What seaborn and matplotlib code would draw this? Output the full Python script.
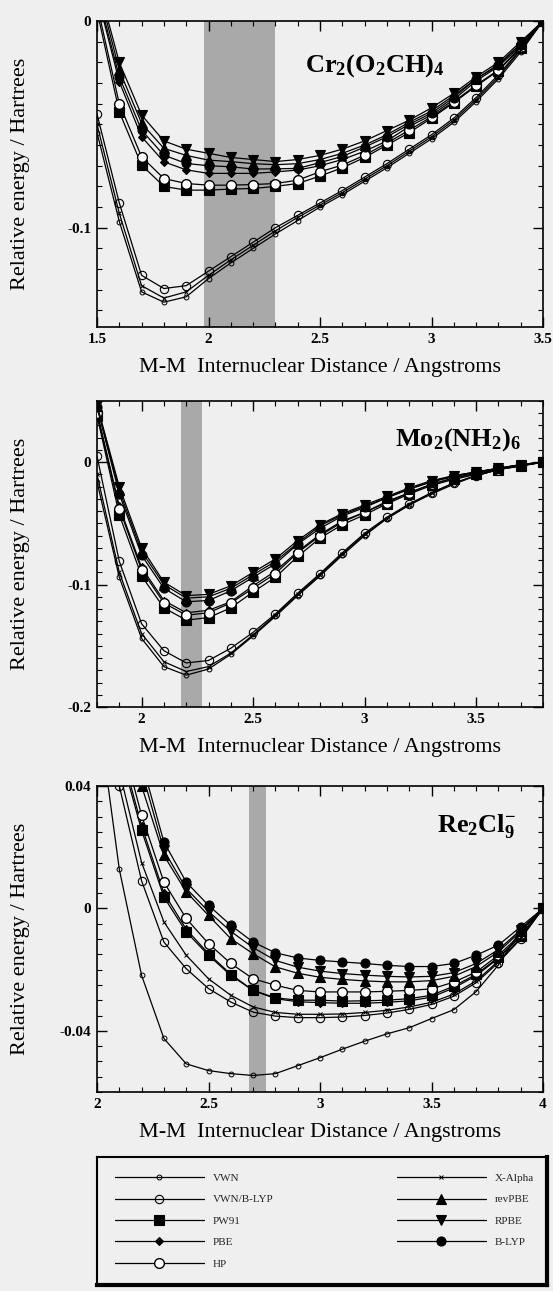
import matplotlib
matplotlib.use("Agg")
import numpy as np
import pandas as pd
import matplotlib.pyplot as plt
import seaborn as sns
from matplotlib.ticker import MultipleLocator, FormatStrFormatter
from matplotlib.lines import Line2D

# ---------------- data ----------------
METHODS = ["VWN", "VWN/B-LYP", "PW91", "PBE", "HP", "X-Alpha", "revPBE", "RPBE", "B-LYP"]

# Cr2(O2CH)4
CR_TITLE = r"$\mathbf{Cr_2(O_2CH)_4}$"
CR_X = [1.5, 1.6, 1.7, 1.8, 1.9, 2.0, 2.1, 2.2, 2.3, 2.4, 2.5, 2.6, 2.7, 2.8, 2.9, 3.0, 3.1, 3.2, 3.3, 3.4, 3.5]
CR_VWN = [-0.054, -0.097, -0.131, -0.136, -0.1334, -0.1246, -0.117, -0.110, -0.103, -0.0965, -0.090, -0.084, -0.0775, -0.071, -0.064, -0.057, -0.049, -0.039, -0.028, -0.015, 0.0]
CR_VWNBLYP = [-0.045, -0.088, -0.123, -0.1294, -0.128, -0.121, -0.114, -0.107, -0.100, -0.094, -0.088, -0.082, -0.0755, -0.069, -0.062, -0.055, -0.047, -0.037, -0.026, -0.0135, 0.0]
CR_XALPHA = [-0.050, -0.093, -0.128, -0.134, -0.131, -0.123, -0.1155, -0.1085, -0.1015, -0.095, -0.089, -0.083, -0.0765, -0.070, -0.063, -0.056, -0.048, -0.038, -0.027, -0.014, 0.0]
CR_PW91 = [0.005, -0.044, -0.0697, -0.080, -0.0818, -0.0818, -0.0813, -0.081, -0.080, -0.0786, -0.075, -0.071, -0.066, -0.060, -0.054, -0.047, -0.0395, -0.0315, -0.024, -0.013, 0.0]
CR_PBE = [0.013, -0.0294, -0.056, -0.0681, -0.072, -0.0737, -0.0737, -0.0737, -0.073, -0.0721, -0.070, -0.067, -0.063, -0.058, -0.051, -0.0455, -0.038, -0.029, -0.022, -0.012, 0.0]
CR_HP = [0.008, -0.040, -0.0657, -0.0762, -0.0786, -0.0794, -0.0794, -0.0791, -0.0786, -0.077, -0.0729, -0.0697, -0.0649, -0.059, -0.0528, -0.0463, -0.039, -0.031, -0.0237, -0.0125, 0.0]
CR_REVPBE = [0.018, -0.0237, -0.0495, -0.0616, -0.065, -0.0673, -0.068, -0.069, -0.0695, -0.069, -0.067, -0.064, -0.060, -0.055, -0.049, -0.0435, -0.036, -0.028, -0.021, -0.011, 0.0]
CR_RPBE = [0.020, -0.020, -0.0455, -0.058, -0.062, -0.064, -0.066, -0.067, -0.068, -0.067, -0.065, -0.062, -0.058, -0.053, -0.048, -0.042, -0.035, -0.027, -0.020, -0.010, 0.0]
CR_BLYP = [0.015, -0.027, -0.0528, -0.0649, -0.0689, -0.070, -0.0705, -0.0716, -0.0715, -0.0713, -0.0685, -0.0655, -0.061, -0.056, -0.050, -0.0445, -0.037, -0.028, -0.0215, -0.011, 0.0]
CR_BAND = [1.98, 2.30]
CR_XLIM = [1.5, 3.5]
CR_YLIM = [-0.148, 0.0]
CR_YTICK = 0.1

# Mo2(NH2)6
MO_TITLE = r"$\mathbf{Mo_2(NH_2)_6}$"
MO_X = [1.8, 1.9, 2.0, 2.1, 2.2, 2.3, 2.4, 2.5, 2.6, 2.7, 2.8, 2.9, 3.0, 3.1, 3.2, 3.3, 3.4, 3.5, 3.6, 3.7, 3.8]
MO_VWN = [-0.016, -0.094, -0.144, -0.167, -0.174, -0.169, -0.157, -0.142, -0.126, -0.109, -0.093, -0.076, -0.060, -0.046, -0.035, -0.026, -0.018, -0.011, -0.006, -0.002, 0.0]
MO_VWNBLYP = [0.005, -0.081, -0.132, -0.154, -0.164, -0.162, -0.152, -0.139, -0.124, -0.107, -0.091, -0.074, -0.058, -0.045, -0.034, -0.025, -0.017, -0.011, -0.006, -0.002, 0.0]
MO_XALPHA = [-0.010, -0.090, -0.140, -0.163, -0.171, -0.167, -0.156, -0.141, -0.125, -0.108, -0.092, -0.075, -0.059, -0.046, -0.035, -0.025, -0.017, -0.011, -0.006, -0.002, 0.0]
MO_PW91 = [0.038, -0.043, -0.093, -0.119, -0.129, -0.127, -0.119, -0.106, -0.094, -0.077, -0.062, -0.051, -0.043, -0.034, -0.026, -0.019, -0.014, -0.010, -0.006, -0.003, 0.0]
MO_PBE = [0.041, -0.036, -0.086, -0.113, -0.123, -0.121, -0.114, -0.101, -0.089, -0.073, -0.059, -0.048, -0.041, -0.032, -0.025, -0.018, -0.013, -0.009, -0.006, -0.003, 0.0]
MO_HP = [0.040, -0.038, -0.088, -0.115, -0.125, -0.123, -0.115, -0.103, -0.091, -0.074, -0.060, -0.049, -0.041, -0.033, -0.025, -0.018, -0.013, -0.009, -0.006, -0.003, 0.0]
MO_REVPBE = [0.046, -0.023, -0.073, -0.100, -0.111, -0.110, -0.103, -0.092, -0.081, -0.066, -0.052, -0.043, -0.036, -0.029, -0.022, -0.016, -0.011, -0.008, -0.005, -0.002, 0.0]
MO_RPBE = [0.047, -0.020, -0.070, -0.098, -0.109, -0.108, -0.101, -0.090, -0.079, -0.064, -0.051, -0.042, -0.035, -0.028, -0.021, -0.015, -0.011, -0.008, -0.005, -0.002, 0.0]
MO_BLYP = [0.045, -0.026, -0.076, -0.103, -0.114, -0.113, -0.105, -0.094, -0.083, -0.067, -0.054, -0.044, -0.037, -0.029, -0.022, -0.016, -0.012, -0.008, -0.005, -0.002, 0.0]
MO_BAND = [2.175, 2.27]
MO_XLIM = [1.8, 3.8]
MO_YLIM = [-0.2, 0.05]
MO_YTICK = 0.1

# Re2Cl9-
RE_TITLE = r"$\mathbf{Re_2Cl_9^{-}}$"
RE_X = [2.0, 2.1, 2.2, 2.3, 2.4, 2.5, 2.6, 2.7, 2.8, 2.9, 3.0, 3.1, 3.2, 3.3, 3.4, 3.5, 3.6, 3.7, 3.8, 3.9, 4.0]
RE_VWN = [0.067, 0.0128, -0.0219, -0.0425, -0.0508, -0.0530, -0.0540, -0.0546, -0.0540, -0.0514, -0.0488, -0.0460, -0.0434, -0.0410, -0.0390, -0.0360, -0.0331, -0.0272, -0.0185, -0.0070, 0.0]
RE_VWNBLYP = [0.090, 0.040, 0.009, -0.0110, -0.0197, -0.0262, -0.0306, -0.0339, -0.0352, -0.0357, -0.0357, -0.0355, -0.0350, -0.0342, -0.0330, -0.0314, -0.0287, -0.0243, -0.0177, -0.0100, 0.0]
RE_XALPHA = [0.095, 0.045, 0.015, -0.0044, -0.0153, -0.0230, -0.0284, -0.0322, -0.0340, -0.0346, -0.0346, -0.0345, -0.0340, -0.0333, -0.0322, -0.0307, -0.0280, -0.0237, -0.0172, -0.0097, 0.0]
RE_PW91 = [0.100, 0.052, 0.0255, 0.0037, -0.0077, -0.0153, -0.0219, -0.0268, -0.0292, -0.0300, -0.0300, -0.0303, -0.0302, -0.0300, -0.0295, -0.0284, -0.0254, -0.0216, -0.0160, -0.0090, 0.0]
RE_PBE = [0.100, 0.054, 0.027, 0.0050, -0.0068, -0.0148, -0.0215, -0.0268, -0.0295, -0.0305, -0.0308, -0.0310, -0.0310, -0.0307, -0.0302, -0.0290, -0.0260, -0.0220, -0.0163, -0.0092, 0.0]
RE_HP = [0.110, 0.058, 0.0304, 0.0086, -0.0033, -0.0115, -0.0180, -0.0230, -0.0251, -0.0268, -0.0273, -0.0273, -0.0273, -0.0271, -0.0268, -0.0263, -0.0241, -0.0208, -0.0153, -0.0085, 0.0]
RE_REVPBE = [0.140, 0.080, 0.040, 0.0173, 0.0054, -0.0023, -0.0099, -0.0148, -0.0191, -0.0212, -0.0225, -0.0232, -0.0237, -0.0240, -0.0240, -0.0236, -0.0222, -0.0190, -0.0142, -0.0075, 0.0]
RE_RPBE = [0.150, 0.085, 0.045, 0.0190, 0.0065, -0.0010, -0.0075, -0.0128, -0.0170, -0.0192, -0.0205, -0.0213, -0.0218, -0.0222, -0.0224, -0.0222, -0.0210, -0.0180, -0.0135, -0.0070, 0.0]
RE_BLYP = [0.150, 0.090, 0.048, 0.0217, 0.0086, 0.0010, -0.0055, -0.0110, -0.0145, -0.0162, -0.0170, -0.0175, -0.0180, -0.0186, -0.0190, -0.0190, -0.0180, -0.0153, -0.0120, -0.0060, 0.0]
RE_BAND = [2.68, 2.76]
RE_XLIM = [2.0, 4.0]
RE_YLIM = [-0.06, 0.04]
RE_YTICK = 0.04

X_LABEL = "M-M  Internuclear Distance / Angstroms"
Y_LABEL = "Relative energy / Hartrees"

# ---------------- styles ----------------
STYLE = {
    "VWN":       dict(marker="o", markersize=3.5, markerfacecolor="none", markeredgewidth=0.7),
    "VWN/B-LYP": dict(marker="o", markersize=6, markerfacecolor="none", markeredgewidth=0.8),
    "PW91":      dict(marker="s", markersize=7, markerfacecolor="black", markeredgewidth=0.8),
    "PBE":       dict(marker="D", markersize=4.5, markerfacecolor="black", markeredgewidth=0.8),
    "HP":        dict(marker="o", markersize=7, markerfacecolor="white", markeredgewidth=1.0),
    "X-Alpha":   dict(marker="x", markersize=3.5, markerfacecolor="none", markeredgewidth=0.7),
    "revPBE":    dict(marker="^", markersize=6.5, markerfacecolor="black", markeredgewidth=0.8),
    "RPBE":      dict(marker="v", markersize=6.5, markerfacecolor="black", markeredgewidth=0.8),
    "B-LYP":     dict(marker="o", markersize=6.5, markerfacecolor="black", markeredgewidth=0.8),
}
BG = "#efefef"

sns.set_theme(style="ticks")
plt.rcParams["font.family"] = ["Liberation Serif", "DejaVu Serif"]
plt.rcParams["mathtext.fontset"] = "custom"
plt.rcParams["mathtext.rm"] = "Liberation Serif"
plt.rcParams["mathtext.bf"] = "Liberation Serif:bold"
plt.rcParams["axes.unicode_minus"] = False


def make_df(x, series):
    rows = []
    for name, vals in zip(METHODS, series):
        for xi, yi in zip(x, vals):
            rows.append((name, xi, yi))
    return pd.DataFrame(rows, columns=["method", "r", "E"])


panels = [
    (make_df(CR_X, [CR_VWN, CR_VWNBLYP, CR_PW91, CR_PBE, CR_HP, CR_XALPHA, CR_REVPBE, CR_RPBE, CR_BLYP]),
     CR_TITLE, CR_BAND, CR_XLIM, CR_YLIM, CR_YTICK, (0.78, 0.855)),
    (make_df(MO_X, [MO_VWN, MO_VWNBLYP, MO_PW91, MO_PBE, MO_HP, MO_XALPHA, MO_REVPBE, MO_RPBE, MO_BLYP]),
     MO_TITLE, MO_BAND, MO_XLIM, MO_YLIM, MO_YTICK, (0.95, 0.875)),
    (make_df(RE_X, [RE_VWN, RE_VWNBLYP, RE_PW91, RE_PBE, RE_HP, RE_XALPHA, RE_REVPBE, RE_RPBE, RE_BLYP]),
     RE_TITLE, RE_BAND, RE_XLIM, RE_YLIM, RE_YTICK, (0.94, 0.87)),
]

W, H = 553, 1291
fig = plt.figure(figsize=(W / 100, H / 100), dpi=100, facecolor=BG)

ax_rects = [(97, 21, 543, 327), (97, 401, 543, 707), (97, 786, 543, 1092)]

for (df, title, band, xlim, ylim, ytick, tpos), (l, t, r, b) in zip(panels, ax_rects):
    ax = fig.add_axes([l / W, (H - b) / H, (r - l) / W, (b - t) / H])
    ax.set_facecolor(BG)
    ax.axvspan(band[0], band[1], color="#a9a9a9", lw=0, zorder=0)
    for name in METHODS:
        sub = df[df["method"] == name]
        sns.lineplot(data=sub, x="r", y="E", ax=ax, color="black", lw=0.9,
                     markeredgecolor="black", legend=False, sort=False,
                     estimator=None, zorder=3, **STYLE[name])
    ax.set_xlim(*xlim)
    ax.set_ylim(*ylim)
    ax.xaxis.set_major_locator(MultipleLocator(0.5))
    ax.xaxis.set_minor_locator(MultipleLocator(0.1))
    ax.yaxis.set_major_locator(MultipleLocator(ytick))
    ax.yaxis.set_minor_locator(MultipleLocator(0.01 if ytick > 0.05 else 0.005))
    ax.xaxis.set_major_formatter(FormatStrFormatter("%g"))
    ax.yaxis.set_major_formatter(FormatStrFormatter("%g"))
    ax.tick_params(which="both", direction="in", top=True, right=True, colors="black")
    ax.tick_params(which="major", length=7, width=1.0, labelsize=11, pad=4)
    ax.tick_params(which="minor", length=3.5, width=0.8)
    for lab in ax.get_xticklabels() + ax.get_yticklabels():
        lab.set_fontweight("bold")
    for sp in ax.spines.values():
        sp.set_color("black")
        sp.set_linewidth(1.2)
    ax.set_xlabel(X_LABEL, fontsize=16, color="black")
    ax.set_ylabel(Y_LABEL, fontsize=16, color="black")
    ax.xaxis.set_label_coords(0.5, -0.10)
    ax.yaxis.set_label_coords(-0.15, 0.5)
    ax.text(tpos[0], tpos[1], title, transform=ax.transAxes, ha="right", va="center",
            fontsize=19, color="black", zorder=5)

# legend box
lax = fig.add_axes([97 / W, (H - 1285) / H, 450 / W, 128 / H])
lax.set_facecolor(BG)
lax.set_xticks([])
lax.set_yticks([])
for name, sp in lax.spines.items():
    sp.set_color("black")
    sp.set_linewidth(3.0 if name in ("right", "bottom") else 1.5)
handles = [Line2D([], [], color="black", lw=0.9, markeredgecolor="black", **STYLE[m]) for m in METHODS]
lax.legend(handles, METHODS, loc="center", ncol=2, frameon=False, handlelength=8,
           fontsize=8, mode="expand", bbox_to_anchor=(0.03, 0.02, 0.95, 0.96),
           labelspacing=1.05, handletextpad=0.8, borderaxespad=0.0)

fig.savefig("out.png", dpi=100, facecolor=BG)
